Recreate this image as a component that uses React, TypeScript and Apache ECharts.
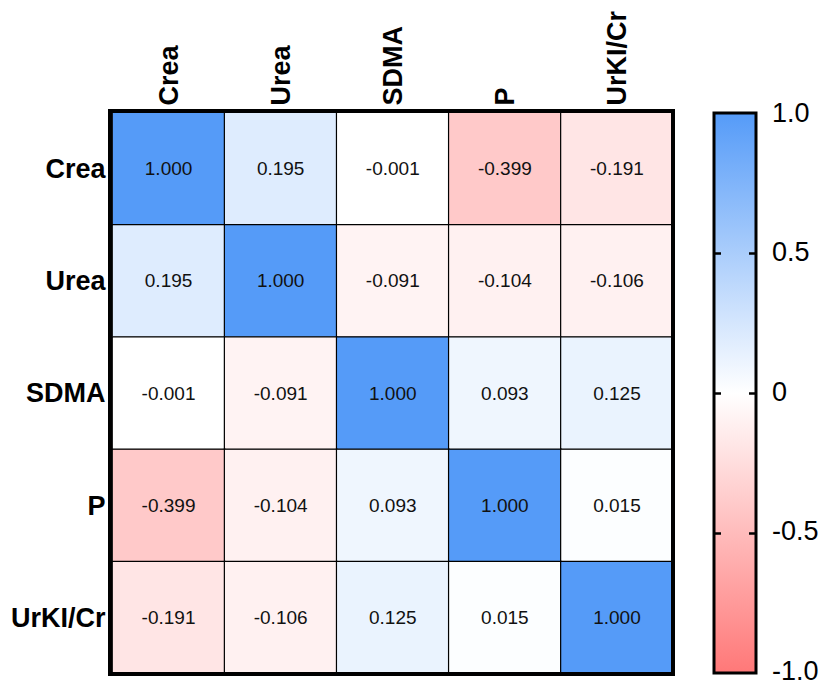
import React, { useEffect, useRef } from "react";
import * as echarts from "echarts";

const categories = ["Crea", "Urea", "SDMA", "P", "UrKI/Cr"];
const rowCrea = [1.0, 0.195, -0.001, -0.399, -0.191];
const rowUrea = [0.195, 1.0, -0.091, -0.104, -0.106];
const rowSDMA = [-0.001, -0.091, 1.0, 0.093, 0.125];
const rowP = [-0.399, -0.104, 0.093, 1.0, 0.015];
const rowUrKI = [-0.191, -0.106, 0.125, 0.015, 1.0];
const rows = [rowCrea, rowUrea, rowSDMA, rowP, rowUrKI];
const colorbarTicks = [-1, -0.5, 0, 0.5, 1];
const colorbarTickLabels = ["-1.0", "-0.5", "0", "0.5", "1.0"];
const colorbarInnerTicks = [-0.5, 0, 0.5];

const BLUE = "#559BF8";
const RED = "#FF7878";
const FONT = "Liberation Sans, Arial, sans-serif";

export default function App() {
  const ref = useRef<HTMLDivElement>(null);
  useEffect(() => {
    if (!ref.current) return;
    const chart = echarts.init(ref.current, undefined, { renderer: "svg" });
    const data: [number, number, number][] = [];
    rows.forEach((r, yi) => r.forEach((v, xi) => data.push([xi, yi, v])));

    const GL = 102, GT = 103, GW = 563, GH = 563;
    const CL = 706, CT = 105, CW = 42, CH = 560;
    const TL = 7;

    const makeTick = () => ({
      show: true,
      inside: true,
      length: TL,
      customValues: colorbarInnerTicks,
      lineStyle: { color: "#000", width: 2.5 },
    });

    chart.setOption({
      animation: false,
      backgroundColor: "#ffffff",
      grid: [
        { left: GL, top: GT, width: GW, height: GH },
        { left: CL, top: CT, width: CW, height: CH, show: false },
        { left: CL, top: CT, width: CW, height: CH, show: false },
        { left: CL + CW - TL, top: CT, width: TL, height: CH, show: false },
      ],
      xAxis: [
        {
          type: "category",
          gridIndex: 0,
          data: categories,
          position: "top",
          axisLine: { show: false },
          axisTick: { show: false },
          splitArea: { show: false },
          axisLabel: {
            rotate: -90,
            margin: 7,
            fontFamily: FONT,
            fontWeight: "bold",
            fontSize: 27,
            color: "#000",
          },
        },
        { type: "value", gridIndex: 1, show: false },
        { type: "value", gridIndex: 2, show: false },
        { type: "value", gridIndex: 3, show: false },
      ],
      yAxis: [
        {
          type: "category",
          gridIndex: 0,
          data: categories,
          inverse: true,
          axisLine: { show: false },
          axisTick: { show: false },
          axisLabel: {
            margin: 7,
            fontFamily: FONT,
            fontWeight: "bold",
            fontSize: 27,
            color: "#000",
          },
        },
        {
          type: "value",
          gridIndex: 1,
          min: -1,
          max: 1,
          interval: 0.5,
          position: "right",
          z: 10,
          axisLine: { show: false },
          splitLine: { show: false },
          axisTick: { show: false },
          axisLabel: {
            margin: 16,
            fontFamily: FONT,
            fontSize: 27,
            color: "#000",
            formatter: (v: number) => {
              const i = colorbarTicks.findIndex((t) => Math.abs(t - v) < 1e-9);
              return i >= 0 ? colorbarTickLabels[i] : "";
            },
          },
        },
        {
          type: "value",
          gridIndex: 2,
          min: -1,
          max: 1,
          interval: 0.5,
          position: "left",
          z: 10,
          axisLine: { show: false },
          splitLine: { show: false },
          axisTick: makeTick(),
          axisLabel: { show: false },
        },
        {
          type: "value",
          gridIndex: 3,
          min: -1,
          max: 1,
          interval: 0.5,
          position: "left",
          z: 10,
          axisLine: { show: false },
          splitLine: { show: false },
          axisTick: makeTick(),
          axisLabel: { show: false },
        },
      ],
      visualMap: {
        show: false,
        type: "continuous",
        min: -1,
        max: 1,
        seriesIndex: 0,
        inRange: { color: [RED, "#FFFFFF", BLUE] },
      },
      graphic: [
        {
          type: "rect",
          z: -10,
          shape: { x: CL, y: CT, width: CW, height: CH },
          style: {
            fill: new echarts.graphic.LinearGradient(0, 0, 0, 1, [
              { offset: 0, color: BLUE },
              { offset: 0.5, color: "#FFFFFF" },
              { offset: 1, color: RED },
            ]),
            stroke: "#000",
            lineWidth: 3,
          },
        },
        {
          type: "rect",
          z: 100,
          shape: { x: GL, y: GT, width: GW, height: GH },
          style: { fill: "none", stroke: "#000", lineWidth: 4 },
        },
      ],
      series: [
        {
          type: "heatmap",
          xAxisIndex: 0,
          yAxisIndex: 0,
          data,
          itemStyle: { borderColor: "#000", borderWidth: 1.2 },
          label: {
            show: true,
            fontFamily: FONT,
            fontSize: 19,
            color: "#111",
            formatter: (p: any) => (p.value[2] as number).toFixed(3),
          },
          emphasis: { disabled: true },
        },
      ],
    });
    return () => chart.dispose();
  }, []);
  return <div ref={ref} style={{ width: 819, height: 676 }} />;
}
